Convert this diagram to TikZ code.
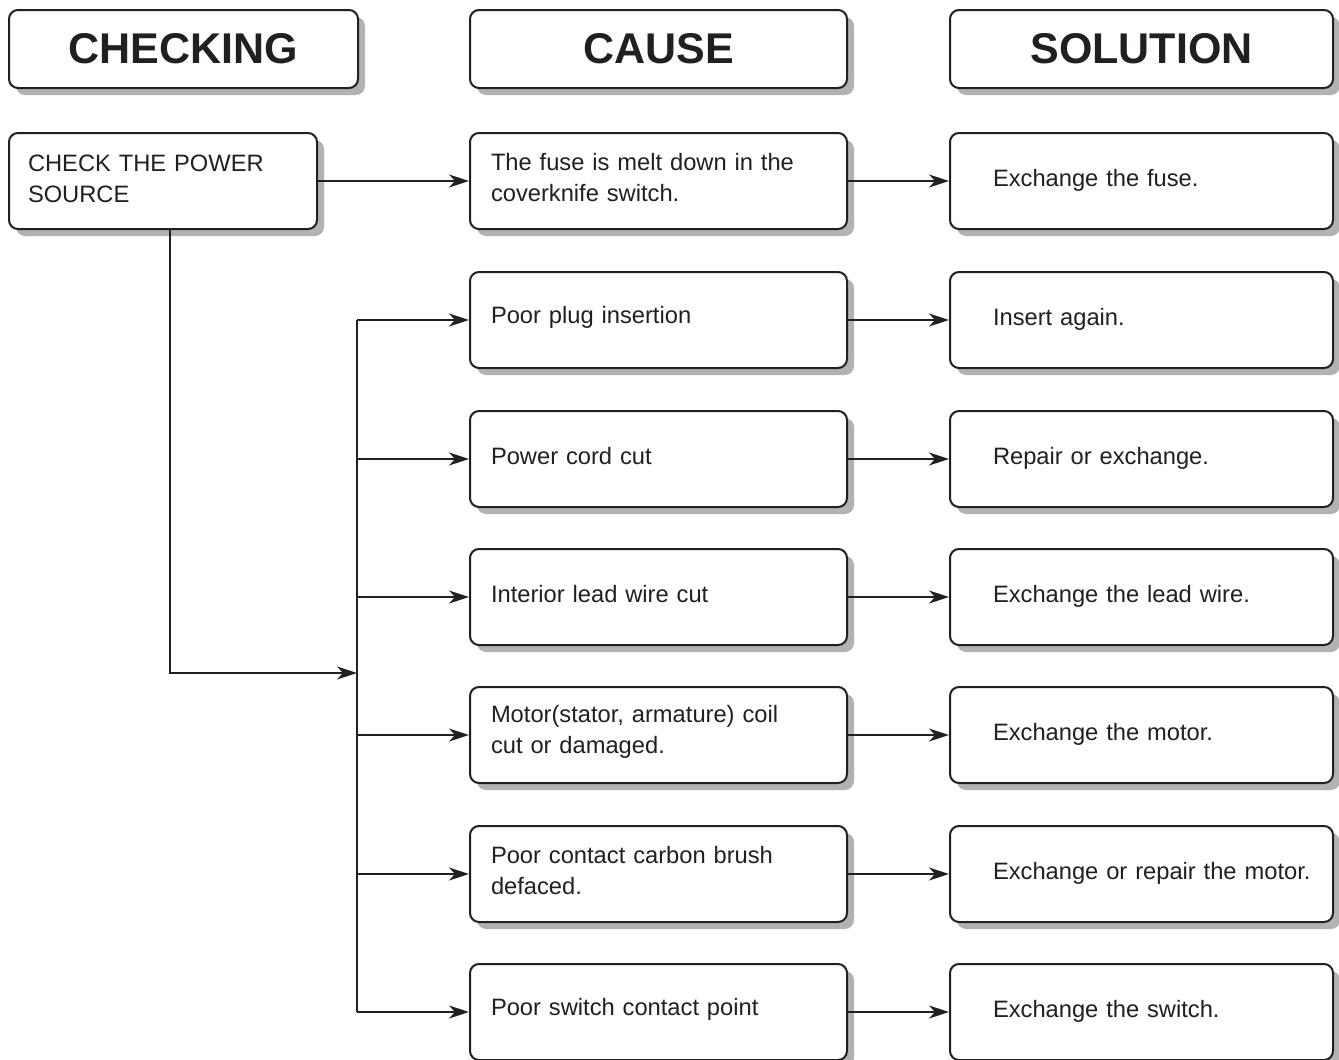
\documentclass[tikz,border=0pt]{standalone}
\usepackage{fontspec}
\setmainfont{Liberation Sans}
\usetikzlibrary{shadows,arrows.meta}
\definecolor{shadowgray}{RGB}{178,178,182}
\definecolor{ink}{RGB}{35,31,32}
\tikzset{
  boxbase/.style={draw=ink, line width=2pt, rounded corners=9pt, fill=white,
    drop shadow={shadow xshift=7pt, shadow yshift=-7pt, fill=shadowgray, opacity=1},
    anchor=north west, inner ysep=0pt, text=ink},
  headbox/.style={boxbase, minimum height=78pt, inner xsep=0pt,
    font=\fontsize{43}{50}\selectfont\bfseries},
  chkbox/.style={boxbase, minimum height=96pt, text width=270pt, inner xsep=19pt,
    align=left, font=\fontsize{23.7}{31}\selectfont,
    execute at end node={\par\vspace*{4pt}}},
  causebox/.style={boxbase, minimum height=96pt, text width=335pt, inner xsep=21pt,
    align=left, font=\fontsize{23.7}{31}\selectfont,
    execute at end node={\par\vspace*{6pt}}},
  solbox/.style={boxbase, minimum height=96pt, text width=383pt, inner xsep=0pt,
    align=left, font=\fontsize{23.7}{31}\selectfont,
    execute at end node={\par\vspace*{2pt}}},
  conn/.style={draw=ink, line width=1.6pt},
  arr/.style={conn, -{Stealth[length=20pt,width=13pt,inset=6pt]}},
}
\newcommand{\solindent}{\hspace*{43pt}}
\begin{document}
\begin{tikzpicture}[x=1pt,y=-1pt]
\useasboundingbox (0,0) rectangle (1339,1060);
% headers
\node[headbox, minimum width=349pt] (h1) at (8,9) {CHECKING};
\node[headbox, minimum width=377pt] (h2) at (469,9) {CAUSE};
\node[headbox, minimum width=383pt] (h3) at (949,9) {SOLUTION};
% checking
\node[chkbox] (chk) at (8,132) {CHECK THE POWER\\SOURCE};
% causes
\node[causebox] (c1) at (469,132) {The fuse is melt down in the\\coverknife switch.};
\node[causebox] (c2) at (469,271) {Poor plug insertion};
\node[causebox] (c3) at (469,410) {Power cord cut};
\node[causebox] (c4) at (469,548) {Interior lead wire cut};
\node[causebox] (c5) at (469,686) {Motor(stator, armature) coil\\cut or damaged.};
\node[causebox] (c6) at (469,825) {Poor contact carbon brush\\defaced.};
\node[causebox] (c7) at (469,963) {Poor switch contact point};
% solutions
\node[solbox] (s1) at (949,132) {\solindent Exchange the fuse.};
\node[solbox] (s2) at (949,271) {\solindent Insert again.};
\node[solbox] (s3) at (949,410) {\solindent Repair or exchange.};
\node[solbox] (s4) at (949,548) {\solindent Exchange the lead wire.};
\node[solbox] (s5) at (949,686) {\solindent Exchange the motor.};
\node[solbox] (s6) at (949,825) {\solindent Exchange or repair the motor.};
\node[solbox] (s7) at (949,963) {\solindent Exchange the switch.};
% connectors
\coordinate (drop) at ([xshift=7pt]chk.south);
\coordinate (join) at (357,673);
\draw[arr] (chk.east) -- (c1.west);
\draw[arr] (drop) |- (join);
\draw[conn] (c2.west -| join) -- (c7.west -| join);
\foreach \i in {2,...,7} {
  \draw[arr] (c\i.west -| join) -- (c\i.west);
}
\foreach \i in {1,...,7} {
  \draw[arr] (c\i.east) -- (s\i.west);
}
\end{tikzpicture}
\end{document}
